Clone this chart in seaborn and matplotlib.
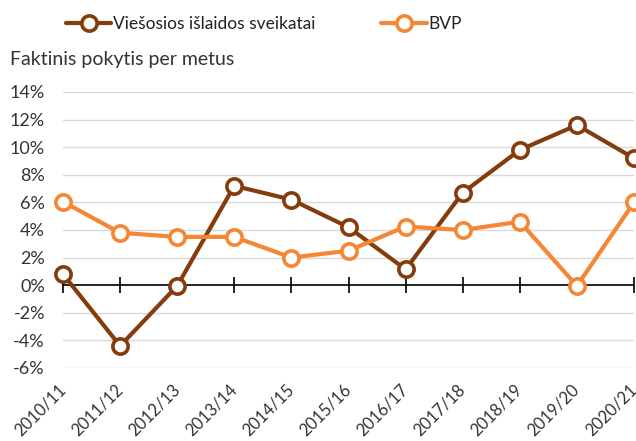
import pandas as pd
import matplotlib
matplotlib.use("Agg")
import matplotlib.pyplot as plt
from matplotlib.ticker import FuncFormatter
import seaborn as sns

# Data
metai = ["2010/11", "2011/12", "2012/13", "2013/14", "2014/15", "2015/16",
         "2016/17", "2017/18", "2018/19", "2019/20", "2020/21"]
sveikatai = [0.8, -4.4, -0.05, 7.2, 6.2, 4.2, 1.15, 6.7, 9.8, 11.6, 9.2]
bvp = [6.05, 3.8, 3.5, 3.5, 2.0, 2.5, 4.25, 4.0, 4.6, -0.05, 6.0]

serijos = ["Viešosios išlaidos sveikatai", "BVP"]
spalvos = ["#843C0C", "#F58634"]
y_ticks = list(range(-6, 15, 2))

df = pd.DataFrame({
    "metai": metai * 2,
    "pokytis": sveikatai + bvp,
    "serija": [serijos[0]] * len(metai) + [serijos[1]] * len(metai),
})

sns.set_style("white")
plt.rcParams["font.family"] = ["Lato", "DejaVu Sans"]

fig = plt.figure(figsize=(6.36, 4.41), dpi=100)
ax = fig.add_axes([63 / 636, 1 - 368 / 441, 571 / 636, 276 / 441])

sns.lineplot(
    data=df, x="metai", y="pokytis", hue="serija",
    palette=dict(zip(serijos, spalvos)), hue_order=serijos,
    sort=False, legend=False, ax=ax,
    linewidth=3, marker="o", markersize=11,
    markerfacecolor="white", markeredgewidth=2.6,
)
for ln in ax.lines:
    ln.set_markeredgecolor(ln.get_color())
    ln.set_clip_on(False)

ax.set_xlim(0, len(metai) - 1)
ax.set_ylim(-6, 14)
ax.set_yticks(y_ticks)
ax.yaxis.set_major_formatter(FuncFormatter(lambda v, p: f"{v:.0f}%"))
for v in y_ticks:
    if v != 0:
        ax.axhline(v, color="#d9d9d9", lw=1, zorder=0)

for s in ["left", "right", "top"]:
    ax.spines[s].set_visible(False)
ax.spines["bottom"].set_position(("data", 0))
ax.spines["bottom"].set_color("black")
ax.spines["bottom"].set_linewidth(1.2)
ax.spines["bottom"].set_zorder(1)

ax.tick_params(axis="y", left=False, length=0, pad=13, labelsize=13,
               labelcolor="#333333")
ax.tick_params(axis="x", bottom=True, direction="inout", length=12, width=1.2,
               color="black", pad=67, labelsize=12, labelcolor="#333333")
plt.setp(ax.get_xticklabels(), rotation=45, ha="right", va="center",
         rotation_mode="anchor")
ax.set_xlabel("")
ax.set_ylabel("")

fig.text(10 / 636, 1 - 60 / 441, "Faktinis pokytis per metus",
         fontsize=14, color="#333333", va="center", ha="left")

fig.legend(handles=ax.lines[:2], labels=serijos, loc="center",
           bbox_to_anchor=(264 / 636, 1 - 24 / 441), ncol=2, frameon=False,
           fontsize=12.5, handlelength=2.6, handletextpad=0.1,
           columnspacing=3.8, labelcolor="#222222")

fig.savefig("out.png", dpi=100)
